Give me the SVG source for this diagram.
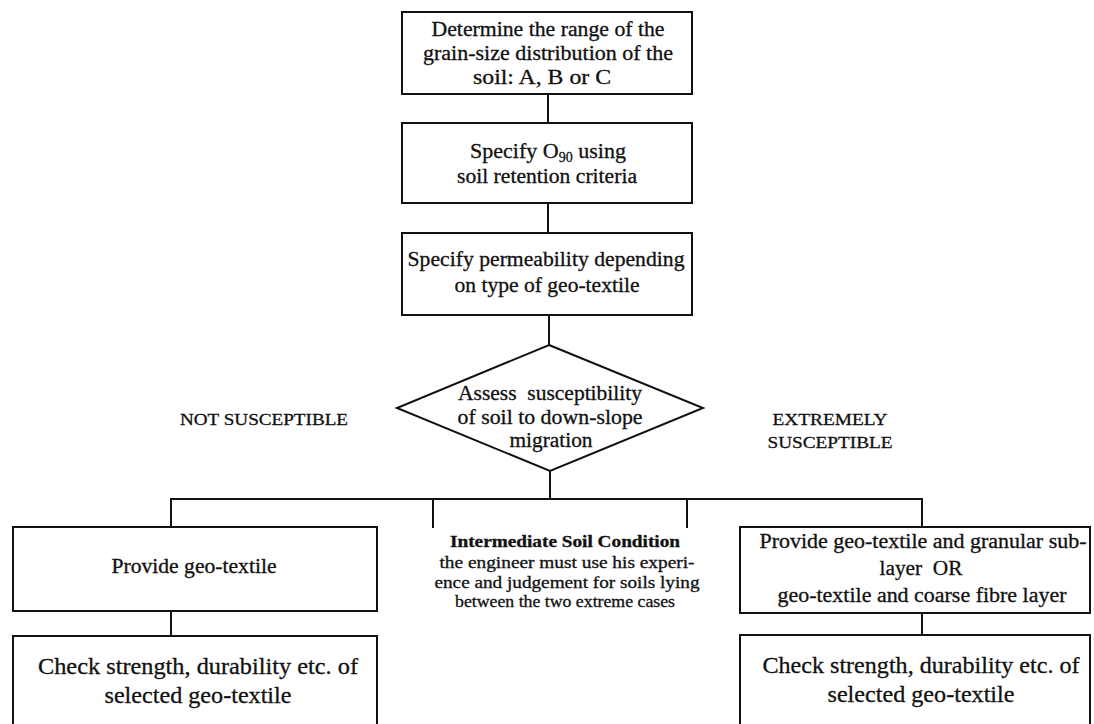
<svg xmlns="http://www.w3.org/2000/svg" width="1094" height="724" viewBox="0 0 1094 724">
<style>
.box{fill:#fff;stroke:#111;stroke-width:2}
.ln{stroke:#111;stroke-width:2;fill:none}
text{font-family:"Liberation Serif","Times New Roman",serif;fill:#111;stroke:#111;stroke-width:0.3;text-anchor:middle}
.t19{font-size:20px}
.t23{font-size:24px}
.t16{font-size:17px}
.t15{font-size:16px}
.b{font-weight:bold}
</style>
<rect width="1094" height="724" fill="#fff"/>
<g id="connectors">
<line class="ln" x1="548" y1="94" x2="548" y2="123"/>
<line class="ln" x1="548" y1="203" x2="548" y2="233"/>
<line class="ln" x1="549" y1="315" x2="549" y2="345"/>
<line class="ln" x1="550" y1="471" x2="550" y2="499"/>
<polyline class="ln" points="171,527 171,499 922,499 922,527"/>
<line class="ln" x1="433" y1="499" x2="433" y2="528"/>
<line class="ln" x1="687" y1="499" x2="687" y2="528"/>
<line class="ln" x1="171" y1="611" x2="171" y2="636"/>
<line class="ln" x1="922" y1="613" x2="922" y2="635"/>
</g>
<g id="n1">
<rect class="box" x="402" y="12" width="290" height="82"/>
<text class="t19" x="548" y="36" textLength="233" lengthAdjust="spacingAndGlyphs">Determine the range of the</text>
<text class="t19" x="548" y="60" textLength="250" lengthAdjust="spacingAndGlyphs">grain-size distribution of the</text>
<text class="t19" x="542" y="84" textLength="138" lengthAdjust="spacingAndGlyphs">soil: A, B or C</text>
</g>
<g id="n2">
<rect class="box" x="402" y="123" width="290" height="80"/>
<text class="t19" x="548" y="158" style="font-size:22px">Specify O<tspan font-size="14" dy="4">90</tspan><tspan dy="-4"> using</tspan></text>
<text class="t19" x="547" y="183" textLength="180" lengthAdjust="spacingAndGlyphs">soil retention criteria</text>
</g>
<g id="n3">
<rect class="box" x="402" y="233" width="290" height="82"/>
<text class="t19" x="546" y="266" textLength="277" lengthAdjust="spacingAndGlyphs">Specify permeability depending</text>
<text class="t19" x="547" y="292" textLength="185" lengthAdjust="spacingAndGlyphs">on type of geo-textile</text>
</g>
<g id="n4">
<polygon class="box" points="549,345 703,408 550,471 397,408"/>
<text class="t19" x="550" y="400" textLength="184" lengthAdjust="spacingAndGlyphs" xml:space="preserve">Assess  susceptibility</text>
<text class="t19" x="550" y="424" textLength="185" lengthAdjust="spacingAndGlyphs">of soil to down-slope</text>
<text class="t19" x="551" y="447" textLength="83" lengthAdjust="spacingAndGlyphs">migration</text>
</g>
<g id="label-not">
<text class="t16" x="264" y="425" textLength="168" lengthAdjust="spacingAndGlyphs">NOT SUSCEPTIBLE</text>
</g>
<g id="label-ext">
<text class="t16" x="830" y="425" textLength="115" lengthAdjust="spacingAndGlyphs">EXTREMELY</text>
<text class="t16" x="830" y="448" textLength="125" lengthAdjust="spacingAndGlyphs">SUSCEPTIBLE</text>
</g>
<g id="n5">
<rect class="box" x="13" y="527" width="364" height="84"/>
<text class="t19" x="194" y="573" textLength="165" lengthAdjust="spacingAndGlyphs">Provide geo-textile</text>
</g>
<g id="n6">
<text class="t15 b" x="565" y="547" textLength="230" lengthAdjust="spacingAndGlyphs">Intermediate Soil Condition</text>
<text class="t15" x="567" y="568" textLength="255" lengthAdjust="spacingAndGlyphs">the engineer must use his experi-</text>
<text class="t15" x="567" y="588" textLength="265" lengthAdjust="spacingAndGlyphs">ence and judgement for soils lying</text>
<text class="t15" x="565" y="607" textLength="220" lengthAdjust="spacingAndGlyphs">between the two extreme cases</text>
</g>
<g id="n7">
<rect class="box" x="740" y="527" width="350" height="86"/>
<text class="t19" x="923" y="548" textLength="327" lengthAdjust="spacingAndGlyphs">Provide geo-textile and granular sub-</text>
<text class="t19" x="921" y="575" textLength="83" lengthAdjust="spacingAndGlyphs" xml:space="preserve">layer  OR</text>
<text class="t19" x="922" y="602" textLength="289" lengthAdjust="spacingAndGlyphs">geo-textile and coarse fibre layer</text>
</g>
<g id="n8">
<rect class="box" x="13" y="636" width="364" height="110"/>
<text class="t23" x="198" y="674" textLength="320" lengthAdjust="spacingAndGlyphs">Check strength, durability etc. of</text>
<text class="t23" x="198" y="703" textLength="187" lengthAdjust="spacingAndGlyphs">selected geo-textile</text>
</g>
<g id="n9">
<rect class="box" x="740" y="635" width="350" height="110"/>
<text class="t23" x="921" y="673" textLength="317" lengthAdjust="spacingAndGlyphs">Check strength, durability etc. of</text>
<text class="t23" x="921" y="702" textLength="187" lengthAdjust="spacingAndGlyphs">selected geo-textile</text>
</g>
</svg>
